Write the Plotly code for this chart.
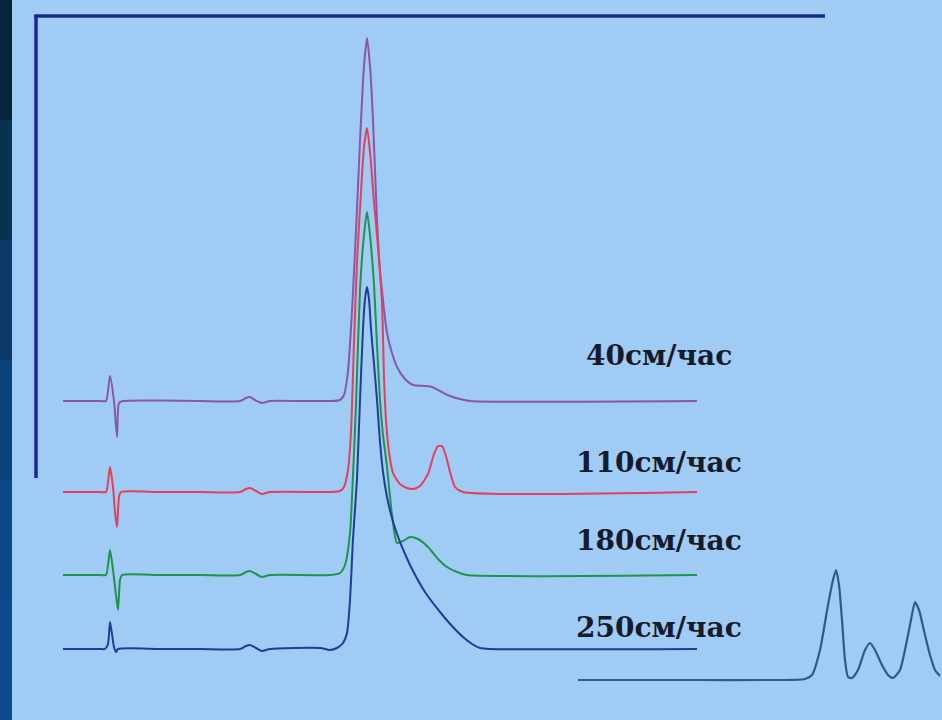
import plotly.graph_objects as go

# ---- data (time in arbitrary units, signal above baseline) ----
labels = ["40см/час", "110см/час", "180см/час", "250см/час"]
baselines = [319, 228, 145, 71]          # vertical stacking offset of each run
colors = ["#8a56a8", "#e2405a", "#1f9448", "#1f3d94"]

t_40 = [63, 100, 106, 110, 114, 117, 119, 123, 160, 200, 240, 246, 250, 255, 262, 270, 300, 330,
        340, 344, 348, 352, 356, 360, 364, 367, 370, 373, 377, 380, 383, 387, 392, 397, 405, 413,
        425, 432, 440, 450, 460, 470, 697]
s_40 = [0, 0, 0, 25, 0, -36, -2, 0, 0.5, 0, 0, 3, 4, 1, -2, 0, 0, 0,
        1, 6, 30, 90, 170, 260, 335, 363, 335, 281, 181, 130, 101, 68, 48, 34, 22, 16,
        15, 14, 10, 5, 2, 0, 0]

t_110 = [63, 100, 106, 110, 113, 115, 117, 119, 121, 160, 200, 240, 246, 250, 256, 262, 270, 330,
         340, 344, 348, 351, 354, 357, 361, 364, 367, 370, 374, 378, 382, 384, 386, 389, 393, 400,
         407, 413, 420, 428, 434, 438, 442, 446, 450, 455, 463, 697]
s_110 = [0, 0, 0, 25, 5, -20, -35, -5, 0, 0, 0, 0, 3, 4, 1, -2, 0, 0,
         1, 5, 22, 60, 150, 230, 300, 345, 364, 340, 290, 245, 190, 115, 72, 40, 19, 8,
         4, 3, 6, 18, 38, 46, 46, 36, 20, 5, 0, 0]

t_180 = [63, 100, 106, 110, 113, 116, 118, 120, 122, 160, 200, 240, 246, 250, 256, 262, 270, 330,
         340, 345, 350, 353, 356, 360, 364, 367, 370, 374, 377, 380, 383, 387, 392, 397, 403, 410,
         418, 428, 438, 447, 457, 467, 697]
s_180 = [0, 0, 0, 25, 5, -20, -35, -5, 0, 0, 0, 0, 3, 4, 1, -2, 0, 0,
         2, 10, 42, 100, 170, 285, 340, 363, 340, 290, 230, 175, 140, 108, 60, 32, 34, 38,
         36, 28, 16, 8, 3, 0, 0]

t_250 = [63, 100, 105, 108, 110, 112, 114, 116, 118, 160, 200, 240, 246, 250, 256, 262, 270, 320,
         330, 337, 343, 347, 350, 353, 357, 360, 363, 365, 367, 369, 371, 374, 377, 380, 383, 387,
         392, 397, 405, 413, 425, 440, 452, 463, 472, 480, 490, 697]
s_250 = [0, 0, 0, 5, 27, 15, 2, -3, 0, 0, 0, 0, 3, 4, 1, -2, 0, 1,
         -1, 1, 6, 16, 49, 110, 170, 249, 320, 350, 362, 350, 320, 285, 249, 207, 177, 152,
         131, 115, 95, 78, 57, 37, 23, 12, 5, 1, 0, 0]

# small reference chromatogram (bottom right)
t_ref = [578, 640, 700, 760, 805, 812, 820, 828, 833, 836, 839, 842, 845, 848, 852, 858, 865, 870,
         875, 882, 888, 893, 900, 906, 911, 915, 919, 925, 930, 935, 940]
s_ref = [0, 0, 0, 0, 1, 5, 30, 75, 100, 110, 95, 60, 20, 3, 2, 10, 30, 37,
         30, 15, 5, 2, 10, 35, 60, 78, 70, 45, 25, 10, 4]
ref_baseline = 40
ref_color = "#2d5a88"

runs = [(t_40, s_40), (t_110, s_110), (t_180, s_180), (t_250, s_250)]

fig = go.Figure()

for (t, s), off, col, name in zip(runs, baselines, colors, labels):
    fig.add_trace(go.Scatter(
        x=t, y=[v + off for v in s], mode="lines", name=name,
        line=dict(color=col, width=2, shape="spline", smoothing=0.6),
        hoverinfo="skip", showlegend=False))

fig.add_trace(go.Scatter(
    x=t_ref, y=[v + ref_baseline for v in s_ref], mode="lines",
    line=dict(color=ref_color, width=2.2, shape="spline", smoothing=0.6),
    hoverinfo="skip", showlegend=False))

# labels
label_pos = [(659, 365), (659, 258), (659, 180), (659, 93)]
for (lx, ly), txt in zip(label_pos, labels):
    fig.add_annotation(x=lx, y=ly, xref="x", yref="y", text="<b>" + txt + "</b>",
                       showarrow=False,
                       font=dict(family="DejaVu Serif", size=28, color="#151b2b"))

shapes = []
# dark slide strip on the left (vertical gradient imitation)
strip_cols = ["#07263e", "#093252", "#0a3b68", "#0b437c", "#0c4888", "#0c4b90"]
n = len(strip_cols)
for i, c in enumerate(strip_cols):
    shapes.append(dict(type="rect", xref="paper", yref="paper",
                       x0=0, x1=12 / 942, y0=1 - (i + 1) / n, y1=1 - i / n,
                       fillcolor=c, line=dict(width=0), layer="below"))
# frame (left and top)
frame_col = "#1c2a8c"
shapes.append(dict(type="line", xref="x", yref="y", x0=36, x1=36, y0=242, y1=705,
                   line=dict(color=frame_col, width=3.5)))
shapes.append(dict(type="line", xref="x", yref="y", x0=34.3, x1=825, y0=704, y1=704,
                   line=dict(color=frame_col, width=3.5)))

fig.update_layout(
    width=942, height=720,
    margin=dict(l=0, r=0, t=0, b=0),
    paper_bgcolor="#a0cbf4", plot_bgcolor="#a0cbf4",
    xaxis=dict(range=[0, 942], visible=False, fixedrange=True),
    yaxis=dict(range=[0, 720], visible=False, fixedrange=True),
    shapes=shapes,
)

fig.write_html("out.html",
               config={"displayModeBar": False, "staticPlot": True},
               post_script="document.body.style.margin='0';document.body.style.overflow='hidden';")
